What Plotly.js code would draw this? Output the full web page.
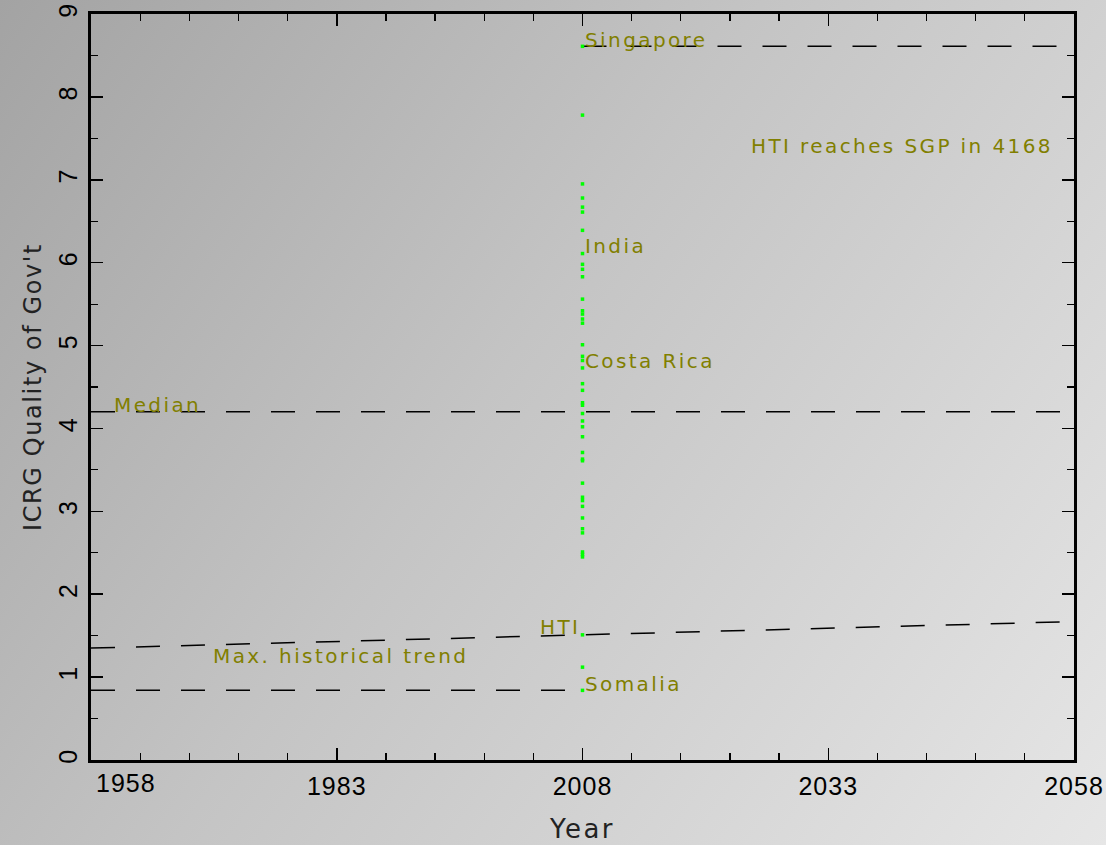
<!DOCTYPE html>
<html>
<head>
<meta charset="utf-8">
<script src="https://cdn.plot.ly/plotly-3.0.1.min.js"></script>
<style>
  html, body { margin: 0; padding: 0; }
  body { width: 1106px; height: 845px; background: linear-gradient(125deg, #a3a3a3 0%, #c4c4c4 45%, #e6e6e6 100%); }
  #chart { width: 1106px; height: 845px; }
  .annotation-text { letter-spacing: 2.4px; }
  .xtick text, .ytick text { letter-spacing: 1px; }
  .xtitle { letter-spacing: 2.5px; }
  .ytitle { letter-spacing: 1.6px; }
</style>
</head>
<body>
<div id="chart"></div>
<script>
// Country scores in 2008 (ICRG Quality of Government, rescaled)
const countryYear = 2008;
const countryScores = [8.61, 7.78, 6.95, 6.78, 6.67, 6.61, 6.39, 6.11, 5.98, 5.92, 5.83,
  5.56, 5.42, 5.38, 5.32, 5.27, 5.01, 4.87, 4.82, 4.73, 4.54, 4.46, 4.31, 4.28, 4.18,
  4.09, 4.02, 3.90, 3.71, 3.63, 3.61, 3.34, 3.17, 3.13, 3.06, 2.92, 2.79, 2.74, 2.51,
  2.48, 2.45, 1.51, 1.12, 0.84];

// Reference lines
const singaporeX = [2008, 2058];
const singaporeY = [8.61, 8.61];
const medianX = [1958, 2058];
const medianY = [4.2, 4.2];
const somaliaX = [1958, 2008];
const somaliaY = [0.84, 0.84];
const trendX = [1958, 2058];
const trendY = [1.35, 1.67];

// Labels
const labelText = ["Singapore", "India", "Costa Rica", "Median", "HTI", "Max. historical trend", "Somalia", "HTI reaches SGP in 4168"];
const labelX = [2008, 2008, 2008, 1960.1, 2007.9, 1970.2, 2008, 2024.9];
const labelY = [8.69, 6.2, 4.81, 4.28, 1.6, 1.25, 0.92, 7.41];
const labelAnchor = ["left", "left", "left", "left", "right", "left", "left", "left"];

const xTicks = [1958, 1983, 2008, 2033, 2058];
const xTickText = ["1958", "1983", "2008", "2033", "2058"];
const yTicks = [0, 1, 2, 3, 4, 5, 6, 7, 8, 9];

const dashLine = { color: "black", width: 1.5, dash: "24px,21px" };

const traces = [
  { x: singaporeX, y: singaporeY, mode: "lines", line: dashLine, hoverinfo: "skip" },
  { x: medianX, y: medianY, mode: "lines", line: dashLine, hoverinfo: "skip" },
  { x: somaliaX, y: somaliaY, mode: "lines", line: dashLine, hoverinfo: "skip" },
  { x: trendX, y: trendY, mode: "lines", line: dashLine, hoverinfo: "skip" },
  { x: countryScores.map(() => countryYear), y: countryScores, mode: "markers",
    marker: { color: "#00ff00", size: 3.5, symbol: "square" } }
];

const annotations = labelText.map((t, i) => ({
  x: labelX[i], y: labelY[i], text: t, showarrow: false,
  xanchor: labelAnchor[i], yanchor: "middle",
  font: { family: "DejaVu Sans", size: 20, color: "#817f00" }
}));
// first x tick label sits inside the frame (shifted right, as in the original)
annotations.push({
  x: xTicks[0], xref: "x", y: 0, yref: "paper", yanchor: "top", xanchor: "left",
  text: "<span style='letter-spacing:1px'>" + xTickText[0] + "</span>", showarrow: false, xshift: 3, yshift: -7,
  font: { family: "Liberation Sans", size: 25, color: "black" }
});

const layout = {
  width: 1106, height: 845,
  margin: { l: 91, r: 32, t: 14, b: 85 },
  paper_bgcolor: "rgba(0,0,0,0)",
  plot_bgcolor: "rgba(0,0,0,0)",
  showlegend: false,
  annotations: annotations,
  xaxis: {
    range: [1958, 2058],
    tickvals: xTicks, ticktext: ["", ...xTickText.slice(1)],
    ticks: "inside", ticklen: 12, tickwidth: 1.5, tickcolor: "black",
    minor: { dtick: 5, tick0: 1958, ticks: "inside", ticklen: 7, tickwidth: 1.2, tickcolor: "black" },
    showline: true, linecolor: "black", linewidth: 3, mirror: "allticks",
    showgrid: false, zeroline: false,
    tickfont: { family: "Liberation Sans", size: 25, color: "black" },
    ticklabelstandoff: 2,
    title: { text: "Year", font: { family: "DejaVu Sans", size: 26, color: "#222" }, standoff: 21 }
  },
  yaxis: {
    range: [0, 9],
    tickvals: yTicks,
    ticks: "inside", ticklen: 12, tickwidth: 1.5, tickcolor: "black",
    minor: { dtick: 0.5, ticks: "inside", ticklen: 7, tickwidth: 1.2, tickcolor: "black" },
    showline: true, linecolor: "black", linewidth: 3, mirror: "allticks",
    showgrid: false, zeroline: false,
    tickangle: -90,
    tickfont: { family: "Liberation Sans", size: 25, color: "black" },
    ticklabelstandoff: 1,
    title: { text: "ICRG Quality of Gov't", font: { family: "DejaVu Sans", size: 24, color: "#222" }, standoff: 6 }
  }
};

Plotly.newPlot("chart", traces, layout, { displayModeBar: false, staticPlot: true });
</script>
</body>
</html>
